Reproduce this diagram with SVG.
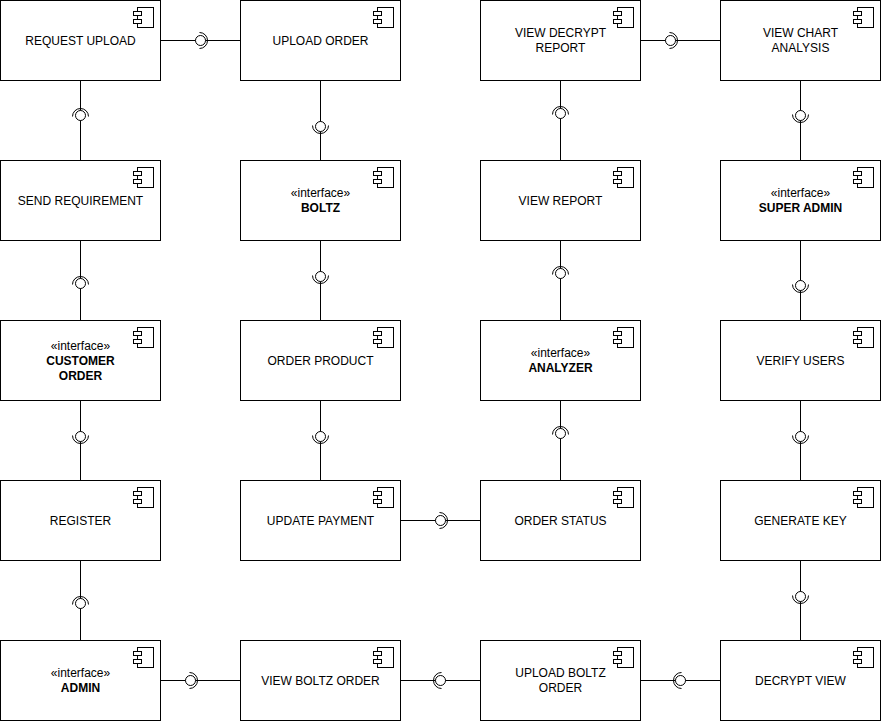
<svg xmlns="http://www.w3.org/2000/svg" width="881" height="721" viewBox="0 0 881 721">
  <style>
    .box { fill: #ffffff; stroke: #000000; stroke-width: 1; }
    .icon { fill: #ffffff; stroke: #000000; stroke-width: 1; }
    .lbl { font-family: "Liberation Sans", Arial, Helvetica, sans-serif; font-size: 12px; fill: #000000; text-anchor: middle; }
    .b { font-weight: bold; }
    .wire { stroke: #000000; stroke-width: 1; fill: none; }
    .ball { fill: #ffffff; stroke: #000000; stroke-width: 1; }
    .socket { fill: none; stroke: #000000; stroke-width: 1; }
  </style>
  <defs>
    <!-- UML component glyph, anchored at the top-right corner of its box -->
    <g id="compIcon">
      <rect class="icon" x="-23" y="7" width="16" height="20"/>
      <rect class="icon" x="-27" y="11" width="8" height="4"/>
      <rect class="icon" x="-27" y="19" width="8" height="4"/>
    </g>
    <!-- provided/required interface: ball with socket opening to the right -->
    <g id="lollipop">
      <path class="socket" d="M -1 -8 A 8 8 0 0 1 -1 8"/>
      <circle class="ball" cx="0" cy="0" r="5"/>
    </g>
  </defs>

  <rect width="881" height="721" fill="#ffffff"/>

  <!-- connectors -->
  <g id="connectors">
    <!-- vertical links -->
    <path class="wire" d="M80.5 80.5 V160.5 M80.5 240.5 V320.5 M80.5 400.5 V480.5 M80.5 560.5 V640.5"/>
    <path class="wire" d="M320.5 80.5 V160.5 M320.5 240.5 V320.5 M320.5 400.5 V480.5"/>
    <path class="wire" d="M560.5 80.5 V160.5 M560.5 240.5 V320.5 M560.5 400.5 V480.5"/>
    <path class="wire" d="M800.5 80.5 V160.5 M800.5 240.5 V320.5 M800.5 400.5 V480.5 M800.5 560.5 V640.5"/>
    <!-- horizontal links -->
    <path class="wire" d="M160.5 40.5 H240.5 M640.5 40.5 H720.5 M400.5 520.5 H480.5"/>
    <path class="wire" d="M160.5 680.5 H240.5 M400.5 680.5 H480.5 M640.5 680.5 H720.5"/>

    <!-- column 1 -->
    <use href="#lollipop" transform="translate(80.5 115.5) rotate(-90)"/>
    <use href="#lollipop" transform="translate(80.5 283.5) rotate(-90)"/>
    <use href="#lollipop" transform="translate(80.5 436.5) rotate(90)"/>
    <use href="#lollipop" transform="translate(80.5 603.5) rotate(-90)"/>
    <!-- column 2 -->
    <use href="#lollipop" transform="translate(320.5 126.5) rotate(90)"/>
    <use href="#lollipop" transform="translate(320.5 276.5) rotate(90)"/>
    <use href="#lollipop" transform="translate(320.5 436.5) rotate(90)"/>
    <!-- column 3 -->
    <use href="#lollipop" transform="translate(560.5 113.5) rotate(-90)"/>
    <use href="#lollipop" transform="translate(560.5 273.5) rotate(-90)"/>
    <use href="#lollipop" transform="translate(560.5 433.5) rotate(-90)"/>
    <!-- column 4 -->
    <use href="#lollipop" transform="translate(800.5 115.5) rotate(90)"/>
    <use href="#lollipop" transform="translate(800.5 285.5) rotate(90)"/>
    <use href="#lollipop" transform="translate(800.5 436.5) rotate(90)"/>
    <use href="#lollipop" transform="translate(800.5 596.5) rotate(90)"/>
    <!-- rows -->
    <use href="#lollipop" transform="translate(200.5 40.5)"/>
    <use href="#lollipop" transform="translate(670.5 40.5)"/>
    <use href="#lollipop" transform="translate(440.5 520.5)"/>
    <use href="#lollipop" transform="translate(190.5 680.5)"/>
    <use href="#lollipop" transform="translate(440.5 680.5) rotate(180)"/>
    <use href="#lollipop" transform="translate(680.5 680.5) rotate(180)"/>
  </g>

  <!-- row 1 -->
  <g id="request-upload">
    <rect class="box" x="0.5" y="0.5" width="160" height="80"/>
    <use href="#compIcon" transform="translate(160.5 0.5)"/>
    <text class="lbl" x="80.5" y="44.5">REQUEST UPLOAD</text>
  </g>
  <g id="upload-order">
    <rect class="box" x="240.5" y="0.5" width="160" height="80"/>
    <use href="#compIcon" transform="translate(400.5 0.5)"/>
    <text class="lbl" x="320.5" y="44.5">UPLOAD ORDER</text>
  </g>
  <g id="view-decrypt-report">
    <rect class="box" x="480.5" y="0.5" width="160" height="80"/>
    <use href="#compIcon" transform="translate(640.5 0.5)"/>
    <text class="lbl" x="560.5" y="37">VIEW DECRYPT</text>
    <text class="lbl" x="560.5" y="52">REPORT</text>
  </g>
  <g id="view-chart-analysis">
    <rect class="box" x="720.5" y="0.5" width="160" height="80"/>
    <use href="#compIcon" transform="translate(880.5 0.5)"/>
    <text class="lbl" x="800.5" y="37">VIEW CHART</text>
    <text class="lbl" x="800.5" y="52">ANALYSIS</text>
  </g>

  <!-- row 2 -->
  <g id="send-requirement">
    <rect class="box" x="0.5" y="160.5" width="160" height="80"/>
    <use href="#compIcon" transform="translate(160.5 160.5)"/>
    <text class="lbl" x="80.5" y="204.5">SEND REQUIREMENT</text>
  </g>
  <g id="boltz">
    <rect class="box" x="240.5" y="160.5" width="160" height="80"/>
    <use href="#compIcon" transform="translate(400.5 160.5)"/>
    <text class="lbl" x="320.5" y="197">«interface»</text>
    <text class="lbl b" x="320.5" y="212">BOLTZ</text>
  </g>
  <g id="view-report">
    <rect class="box" x="480.5" y="160.5" width="160" height="80"/>
    <use href="#compIcon" transform="translate(640.5 160.5)"/>
    <text class="lbl" x="560.5" y="204.5">VIEW REPORT</text>
  </g>
  <g id="super-admin">
    <rect class="box" x="720.5" y="160.5" width="160" height="80"/>
    <use href="#compIcon" transform="translate(880.5 160.5)"/>
    <text class="lbl" x="800.5" y="197">«interface»</text>
    <text class="lbl b" x="800.5" y="212">SUPER ADMIN</text>
  </g>

  <!-- row 3 -->
  <g id="customer-order">
    <rect class="box" x="0.5" y="320.5" width="160" height="80"/>
    <use href="#compIcon" transform="translate(160.5 320.5)"/>
    <text class="lbl" x="80.5" y="349.5">«interface»</text>
    <text class="lbl b" x="80.5" y="364.5">CUSTOMER</text>
    <text class="lbl b" x="80.5" y="379.5">ORDER</text>
  </g>
  <g id="order-product">
    <rect class="box" x="240.5" y="320.5" width="160" height="80"/>
    <use href="#compIcon" transform="translate(400.5 320.5)"/>
    <text class="lbl" x="320.5" y="364.5">ORDER PRODUCT</text>
  </g>
  <g id="analyzer">
    <rect class="box" x="480.5" y="320.5" width="160" height="80"/>
    <use href="#compIcon" transform="translate(640.5 320.5)"/>
    <text class="lbl" x="560.5" y="357">«interface»</text>
    <text class="lbl b" x="560.5" y="372">ANALYZER</text>
  </g>
  <g id="verify-users">
    <rect class="box" x="720.5" y="320.5" width="160" height="80"/>
    <use href="#compIcon" transform="translate(880.5 320.5)"/>
    <text class="lbl" x="800.5" y="364.5">VERIFY USERS</text>
  </g>

  <!-- row 4 -->
  <g id="register">
    <rect class="box" x="0.5" y="480.5" width="160" height="80"/>
    <use href="#compIcon" transform="translate(160.5 480.5)"/>
    <text class="lbl" x="80.5" y="524.5">REGISTER</text>
  </g>
  <g id="update-payment">
    <rect class="box" x="240.5" y="480.5" width="160" height="80"/>
    <use href="#compIcon" transform="translate(400.5 480.5)"/>
    <text class="lbl" x="320.5" y="524.5">UPDATE PAYMENT</text>
  </g>
  <g id="order-status">
    <rect class="box" x="480.5" y="480.5" width="160" height="80"/>
    <use href="#compIcon" transform="translate(640.5 480.5)"/>
    <text class="lbl" x="560.5" y="524.5">ORDER STATUS</text>
  </g>
  <g id="generate-key">
    <rect class="box" x="720.5" y="480.5" width="160" height="80"/>
    <use href="#compIcon" transform="translate(880.5 480.5)"/>
    <text class="lbl" x="800.5" y="524.5">GENERATE KEY</text>
  </g>

  <!-- row 5 -->
  <g id="admin">
    <rect class="box" x="0.5" y="640.5" width="160" height="80"/>
    <use href="#compIcon" transform="translate(160.5 640.5)"/>
    <text class="lbl" x="80.5" y="677">«interface»</text>
    <text class="lbl b" x="80.5" y="692">ADMIN</text>
  </g>
  <g id="view-boltz-order">
    <rect class="box" x="240.5" y="640.5" width="160" height="80"/>
    <use href="#compIcon" transform="translate(400.5 640.5)"/>
    <text class="lbl" x="320.5" y="684.5">VIEW BOLTZ ORDER</text>
  </g>
  <g id="upload-boltz-order">
    <rect class="box" x="480.5" y="640.5" width="160" height="80"/>
    <use href="#compIcon" transform="translate(640.5 640.5)"/>
    <text class="lbl" x="560.5" y="677">UPLOAD BOLTZ</text>
    <text class="lbl" x="560.5" y="692">ORDER</text>
  </g>
  <g id="decrypt-view">
    <rect class="box" x="720.5" y="640.5" width="160" height="80"/>
    <use href="#compIcon" transform="translate(880.5 640.5)"/>
    <text class="lbl" x="800.5" y="684.5">DECRYPT VIEW</text>
  </g>
</svg>
